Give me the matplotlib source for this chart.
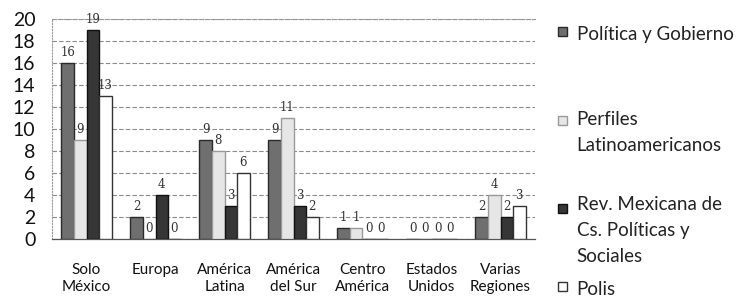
import matplotlib
matplotlib.use("Agg")
import matplotlib.pyplot as plt
import numpy as np
from matplotlib.legend_handler import HandlerPatch
from matplotlib.patches import Rectangle

# ------------------------------------ Data ------------------------------------

categories = ["Solo\nMéxico", "Europa", "América\nLatina", "América\ndel Sur",
              "Centro\nAmérica", "Estados\nUnidos", "Varias\nRegiones"]

series_names = ["Política y Gobierno", "Perfiles\nLatinoamericanos",
                "Rev. Mexicana de\nCs. Políticas y\nSociales", "Polis"]

politica_gobierno = [16, 2, 9, 9, 1, 0, 2]
perfiles_latam = [9, 0, 8, 11, 1, 0, 4]
rev_mexicana = [19, 4, 3, 3, 0, 0, 2]
polis = [13, 0, 6, 2, 0, 0, 3]

# ----------------------------------- Styles -----------------------------------

face_colors = ["#6f6f6f", "#e6e6e6", "#363636", "#ffffff"]
edge_colors = ["#2a2a2a", "#9a9a9a", "#111111", "#333333"]
legend_top_px = [32, 117, 202, 287]  # first line of each legend entry, pixels from top


# Legend square sits next to the first line of a multi-line label
class TopSquare(HandlerPatch):
    def create_artists(self, legend, orig_handle, xdescent, ydescent,
                       width, height, fontsize, trans):
        size = 0.5 * fontsize
        p = Rectangle((-xdescent, -ydescent + height - size), size, size)
        self.update_prop(p, orig_handle, legend)
        p.set_transform(trans)
        return [p]


plt.rcParams['font.family'] = ['Lato', 'DejaVu Sans']

fig = plt.figure(figsize=(7.41, 2.99), dpi=100)
ax = fig.add_axes([52 / 741, 1 - 239 / 299, (535 - 52) / 741, 220 / 299])

x = np.arange(len(categories))
width = 0.182
all_series = [politica_gobierno, perfiles_latam, rev_mexicana, polis]

containers = []
for i, values in enumerate(all_series):
    offset = (i - 1.5) * width
    bars = ax.bar(x + offset, values, width, color=face_colors[i],
                  edgecolor=edge_colors[i], linewidth=1.0, zorder=3)
    containers.append(bars)
    # data labels
    for xi, v in zip(x + offset, values):
        ax.annotate(str(v), (xi, v), xytext=(0, 3), textcoords="offset points",
                    ha="center", va="bottom", fontsize=8.5, color="#333333",
                    family=["DejaVu Serif"], zorder=4)

ax.set_xlim(-0.5, len(categories) - 0.5)
ax.set_ylim(0, 20)
ax.set_yticks(range(0, 21, 2))
ax.tick_params(axis="y", length=0, labelsize=14, pad=12, labelcolor="#111111")
ax.set_xticks(x)
ax.set_xticklabels(categories, fontsize=11, linespacing=1.3, color="#111111")
ax.tick_params(axis="x", length=0, pad=17)

ax.yaxis.grid(True, linestyle=(0, (4, 2)), color="#8a8a8a", linewidth=0.8, zorder=0)
for side in ["left", "top", "right"]:
    ax.spines[side].set_linestyle(":")
    ax.spines[side].set_color("#999999")
    ax.spines[side].set_linewidth(0.8)
ax.spines["right"].set_visible(False)
ax.spines["bottom"].set_color("#555555")
ax.spines["bottom"].set_linewidth(0.9)

# one legend per series so the uneven spacing of the original can be kept
fs = 13.5
for bars, name, ypx in zip(containers, series_names, legend_top_px):
    n_lines = name.count("\n") + 1
    handle = bars.patches[0]
    leg = fig.legend([handle], [name], loc="upper left",
                     bbox_to_anchor=(558 / 741, 1 - (ypx - 6) / 299),
                     frameon=False, fontsize=fs, handlelength=0.5,
                     handleheight=0.7 + (n_lines - 1) * 1.85,
                     handletextpad=0.5, borderpad=0, borderaxespad=0,
                     handler_map={handle: TopSquare()})
    for t in leg.get_texts():
        t.set_linespacing(1.66)
        t.set_color("#222222")

fig.savefig("out.png", dpi=100)
